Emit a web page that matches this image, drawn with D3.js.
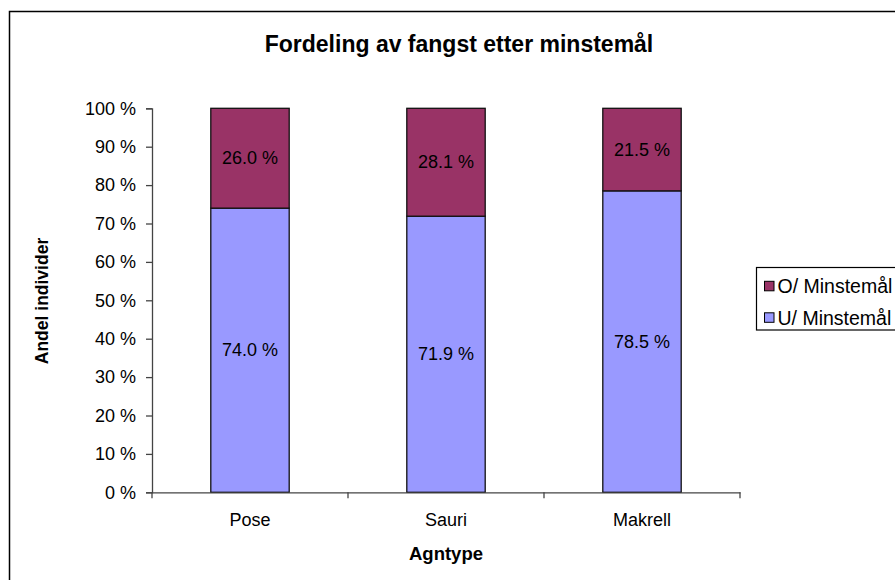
<!DOCTYPE html>
<html>
<head>
<meta charset="utf-8">
<script src="https://cdn.jsdelivr.net/npm/d3@7"></script>
<style>
  html, body { margin: 0; padding: 0; background: #fff; }
  svg { display: block; font-family: "Liberation Sans", Arial, sans-serif; }
</style>
</head>
<body>
<svg id="chart" width="895" height="580"></svg>
<script>
const categories = ["Pose", "Sauri", "Makrell"];
const underValues = [74.0, 71.9, 78.5];
const overValues = [26.0, 28.1, 21.5];
const seriesNames = ["U/ Minstemål", "O/ Minstemål"];
const seriesColors = ["#9999FF", "#993366"];
const yTickValues = [0, 10, 20, 30, 40, 50, 60, 70, 80, 90, 100];
const title = "Fordeling av fangst etter minstemål";
const xTitle = "Agntype";
const yTitle = "Andel individer";

const svg = d3.select("#chart");

// outer chart border (extends beyond the right/bottom edge)
svg.append("rect")
  .attr("x", 9.5).attr("y", 11.5)
  .attr("width", 1000).attr("height", 1000)
  .attr("fill", "none").attr("stroke", "#000").attr("stroke-width", 1.5);

const x = d3.scaleBand().domain(categories).range([152, 740]).paddingInner(0).paddingOuter(0);
const y = d3.scaleLinear().domain([0, 100]).range([492.3, 108.3]);
const barW = x.bandwidth() * 0.4;

const rows = categories.map((c, i) => ({ cat: c, vals: [underValues[i], overValues[i]] }));

// bars
rows.forEach(r => {
  let base = 0;
  r.vals.forEach((v, si) => {
    const x0 = x(r.cat) + (x.bandwidth() - barW) / 2;
    svg.append("rect")
      .attr("x", x0)
      .attr("y", y(base + v))
      .attr("width", barW)
      .attr("height", y(base) - y(base + v))
      .attr("fill", seriesColors[si])
      .attr("stroke", "#111")
      .attr("stroke-width", 1.3);
    svg.append("text")
      .attr("x", x(r.cat) + x.bandwidth() / 2)
      .attr("y", y(base + v / 2))
      .attr("dy", "0.33em")
      .attr("text-anchor", "middle")
      .attr("font-size", 18)
      .attr("fill", "#000")
      .text(v.toFixed(1) + " %");
    base += v;
  });
});

// y axis
const yAxis = d3.axisLeft(y).tickValues(yTickValues).tickSize(6).tickPadding(10)
  .tickFormat(d => d + " %");
const gy = svg.append("g").attr("transform", "translate(152,0)").call(yAxis);
gy.select(".domain").attr("stroke", "#444").attr("stroke-width", 1.3);
gy.selectAll(".tick line").attr("stroke", "#444").attr("stroke-width", 1.3);
gy.selectAll(".tick text").attr("font-size", 18).attr("font-family", "Liberation Sans, Arial, sans-serif").attr("fill", "#000").attr("dy", "0.32em");

// x axis
const xAxis = d3.axisBottom(x).tickSize(0).tickPadding(20.5);
const gx = svg.append("g").attr("transform", "translate(0," + y(0) + ")").call(xAxis);
gx.select(".domain").attr("stroke", "#444").attr("stroke-width", 1.3);
gx.selectAll(".tick text").attr("font-size", 18).attr("font-family", "Liberation Sans, Arial, sans-serif").attr("fill", "#000");
const edges = categories.map(c => x(c)).concat([x.range()[1]]);
gx.selectAll(".edge").data(edges).enter().append("line")
  .attr("x1", d => d).attr("x2", d => d).attr("y1", 0).attr("y2", 6)
  .attr("stroke", "#444").attr("stroke-width", 1.3);

// titles
svg.append("text").attr("x", 459).attr("y", 52).attr("text-anchor", "middle")
  .attr("font-size", 23).attr("font-weight", "bold").text(title);
svg.append("text").attr("x", 446).attr("y", 560).attr("text-anchor", "middle")
  .attr("font-size", 18.5).attr("font-weight", "bold").text(xTitle);
svg.append("text").attr("transform", "translate(48,301) rotate(-90)").attr("text-anchor", "middle")
  .attr("font-size", 17.5).attr("font-weight", "bold").text(yTitle);

// legend
const lg = svg.append("g");
lg.append("rect").attr("x", 756.5).attr("y", 267.5).attr("width", 300).attr("height", 62.5)
  .attr("fill", "#fff").attr("stroke", "#000").attr("stroke-width", 1.2);
const legendOrder = [1, 0];
legendOrder.forEach((si, k) => {
  const cy = 286.3 + k * 31.5;
  lg.append("rect").attr("x", 764.5).attr("y", cy - 5).attr("width", 9.5).attr("height", 9.5)
    .attr("fill", seriesColors[si]).attr("stroke", "#000").attr("stroke-width", 1);
  lg.append("text").attr("x", 777.5).attr("y", cy + 6.7).attr("font-size", 19.5).text(seriesNames[si]);
});
</script>
</body>
</html>
